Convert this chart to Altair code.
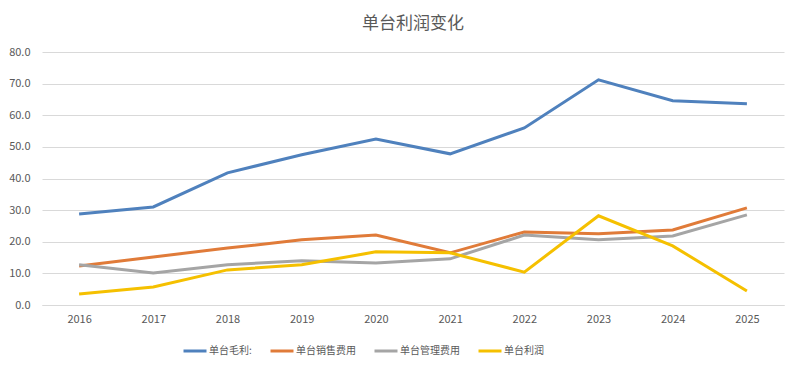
import altair as alt
import pandas as pd

years = ["2016", "2017", "2018", "2019", "2020", "2021", "2022", "2023", "2024", "2025"]
series_names = ["单台毛利:", "单台销售费用", "单台管理费用", "单台利润"]
gross = [28.8, 31.0, 41.8, 47.5, 52.5, 47.8, 56.0, 71.2, 64.6, 63.6]
sales = [12.3, 15.2, 18.0, 20.6, 22.1, 16.5, 23.1, 22.5, 23.7, 30.7]
admin = [12.7, 10.1, 12.7, 14.0, 13.3, 14.6, 22.1, 20.6, 21.8, 28.5]
profit = [3.5, 5.7, 11.1, 12.7, 16.8, 16.5, 10.4, 28.2, 18.7, 4.4]
colors = ["#4F81BD", "#E07B39", "#A5A5A5", "#F5C000"]

rows = []
for name, vals in zip(series_names, [gross, sales, admin, profit]):
    for y, v in zip(years, vals):
        rows.append({"year": y, "series": name, "value": v})
df = pd.DataFrame(rows)

FONT = "Noto Sans CJK SC"

chart = alt.Chart(df).mark_line(strokeWidth=3).encode(
    x=alt.X("year:O", sort=years,
            scale=alt.Scale(type="point", padding=0.5),
            axis=alt.Axis(title=None, labelAngle=0, domain=True, domainColor="#D9D9D9",
                          domainWidth=1, ticks=False, grid=False, labelPadding=8,
                          labelFont=FONT, labelFontSize=11, labelColor="#595959")),
    y=alt.Y("value:Q", scale=alt.Scale(domain=[0, 80], nice=False),
            axis=alt.Axis(title=None, values=[0, 10, 20, 30, 40, 50, 60, 70, 80],
                          format=".1f", domain=False, ticks=False, grid=True,
                          gridColor="#D9D9D9", gridWidth=1, labelPadding=12,
                          labelFont=FONT, labelFontSize=11, labelColor="#595959")),
    color=alt.Color("series:N", sort=series_names,
                    scale=alt.Scale(domain=series_names, range=colors),
                    legend=alt.Legend(title=None, orient="none", direction="horizontal",
                                      legendX=140, legendY=286,
                                      symbolType="stroke", symbolSize=529,
                                      symbolStrokeWidth=3, columnPadding=12,
                                      labelOffset=1,
                                      labelFont=FONT, labelFontSize=10,
                                      labelColor="#595959")),
).properties(
    width=742,
    height=253,
    title=alt.Title("单台利润变化", font=FONT, fontSize=17, fontWeight="normal",
                    color="#595959", offset=13),
    padding={"left": 0, "top": 7, "right": 5, "bottom": 5},
).configure_view(stroke=None)

chart.save("out.html", embed_options={"renderer": "svg", "actions": False})
